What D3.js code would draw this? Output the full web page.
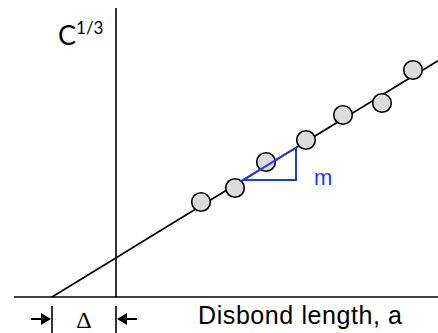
<!DOCTYPE html>
<html>
<head>
<meta charset="utf-8">
<script src="https://cdn.jsdelivr.net/npm/d3@7"></script>
<style>
  body { margin: 0; background: #fff; }
</style>
</head>
<body>
<svg id="chart"></svg>
<script>
// measured points (arbitrary units, y axis sits at a = 0)
var pointsA = [0.85, 1.19, 1.50, 1.90, 2.27, 2.66, 2.97];
var pointsC = [0.95, 1.09, 1.35, 1.57, 1.82, 1.94, 2.27];

// fitted line: intercept at -delta, slope m
var delta = 0.64;
var slope = 0.612;
var slopeA = [1.27, 1.80]; // span of the slope triangle

var labels = { y: "C", ySup: "1/3", x: "Disbond length, a", slope: "m", delta: "\u0394" };

var dimensions = {
  width: 438,
  height: 333,
  margin: { top: 8, bottom: 36, right: 0, left: 14 }
}

var svg = d3.select("#chart")
  .attr("width", dimensions.width)
  .attr("height", dimensions.height)

var xScale = d3.scaleLinear()
  .domain([-1.02, 3.22])
  .range([dimensions.margin.left, dimensions.width - dimensions.margin.right])

var yScale = d3.scaleLinear()
  .domain([0, 2.89])
  .range([dimensions.height - dimensions.margin.bottom, dimensions.margin.top])

var fit = a => slope * (a + delta)

// axes
svg.append("line")
  .attr("x1", xScale(-1.02)).attr("x2", xScale(3.22))
  .attr("y1", yScale(0)).attr("y2", yScale(0))
  .attr("stroke", "black").attr("stroke-width", 1.6)

svg.append("line")
  .attr("x1", xScale(0)).attr("x2", xScale(0))
  .attr("y1", yScale(0)).attr("y2", yScale(2.89))
  .attr("stroke", "black").attr("stroke-width", 1.6)

// fitted line
var line = d3.line()
  .x(d => xScale(d))
  .y(d => yScale(fit(d)))

svg.append("path")
  .datum([-delta, 3.22])
  .attr("d", line)
  .attr("fill", "none")
  .attr("stroke", "black")
  .attr("stroke-width", 1.6)

// data circles
svg.selectAll("circle.pt")
  .data(pointsA)
  .enter()
  .append("circle")
  .attr("class", "pt")
  .attr("cx", d => xScale(d))
  .attr("cy", (d, i) => yScale(pointsC[i]))
  .attr("r", 9.3)
  .attr("fill", "#dcdcdc")
  .attr("stroke", "black")
  .attr("stroke-width", 1.6)

// slope triangle
var tri = [
  [slopeA[0], fit(slopeA[0])],
  [slopeA[1], fit(slopeA[1])],
  [slopeA[1], fit(slopeA[0])]
]
svg.append("path")
  .datum(tri)
  .attr("d", d3.line().x(d => xScale(d[0])).y(d => yScale(d[1])).curve(d3.curveLinearClosed))
  .attr("fill", "none")
  .attr("stroke", "#1a3cf0")
  .attr("stroke-width", 2)

svg.append("text")
  .attr("x", xScale(slopeA[1]) + 18)
  .attr("y", yScale(fit(slopeA[0])) + 5)
  .attr("fill", "#1a3cf0")
  .style("font-family", "Liberation Sans, Arial, sans-serif")
  .style("font-size", "22px")
  .text(labels.slope)

// y label
var yl = svg.append("text")
  .attr("x", 58)
  .attr("y", 45)
  .style("font-family", "Lato, sans-serif")
  .style("font-size", "27px")
yl.append("tspan").text(labels.y)
yl.append("tspan")
  .attr("dy", -11)
  .style("font-size", "17px")
  .text(labels.ySup)

// x label
svg.append("text")
  .attr("x", 198)
  .attr("y", 324)
  .attr("textLength", 204)
  .style("font-family", "Liberation Sans, Arial, sans-serif")
  .style("font-size", "25px")
  .text(labels.x)

// delta marker
var y0 = yScale(0)
;[-delta, 0].forEach(function(a) {
  svg.append("line")
    .attr("x1", xScale(a)).attr("x2", xScale(a))
    .attr("y1", y0 + 9).attr("y2", dimensions.height)
    .attr("stroke", "black").attr("stroke-width", 1.6)
})

function arrow(xTip, dir) {
  var yA = 319
  svg.append("line")
    .attr("x1", xTip - dir * 20).attr("x2", xTip - dir * 6)
    .attr("y1", yA).attr("y2", yA)
    .attr("stroke", "black").attr("stroke-width", 2)
  svg.append("path")
    .attr("d", "M" + xTip + "," + yA + "L" + (xTip - dir * 10) + "," + (yA - 6) + "L" + (xTip - dir * 10) + "," + (yA + 6) + "Z")
    .attr("fill", "black")
}
arrow(xScale(-delta) - 1, 1)
arrow(xScale(0) + 1, -1)

svg.append("text")
  .attr("x", (xScale(-delta) + xScale(0)) / 2)
  .attr("y", 328)
  .attr("text-anchor", "middle")
  .style("font-family", "Liberation Serif, Times New Roman, serif")
  .style("font-size", "24px")
  .text(labels.delta)
</script>
</body>
</html>
